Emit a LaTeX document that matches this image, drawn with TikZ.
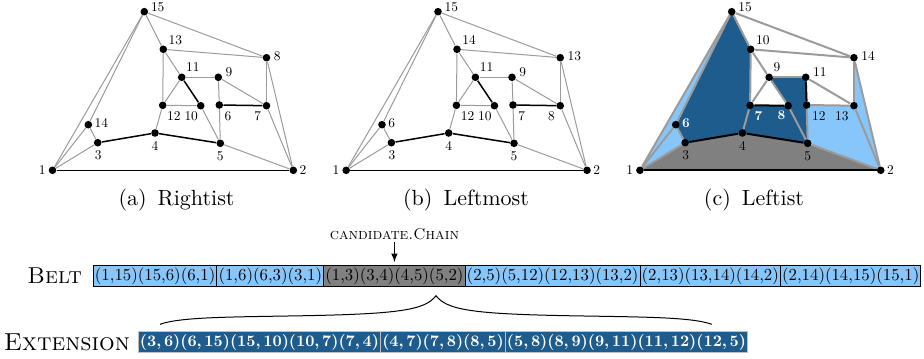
\documentclass[tikz,border=0pt]{standalone}
\usepackage{amsmath,amssymb}
\usepackage{xcolor}
\usepackage{fontspec}
\setmainfont{lmroman10-regular.otf}[BoldFont=lmroman10-bold.otf, ItalicFont=lmroman10-italic.otf, SmallCapsFont=lmromancaps10-regular.otf]
\usepackage{tikz}
\usetikzlibrary{arrows,positioning,backgrounds}

\definecolor{beltblue}{RGB}{135,198,250}
\definecolor{extblue}{RGB}{29,92,140}
\definecolor{edgegray}{RGB}{155,155,155}
\definecolor{facegray}{RGB}{128,128,128}

\newcommand{\wl}[1]{\textcolor{white}{\textbf{#1}}}
\newcommand{\vtxpos}{1/52.5/170.3, 2/293.3/170.3, 3/97.7/142.7, 4/155/133, 5/220.3/143.3, 6/219.3/105, 7/266.5/105.7, 8/266.5/57.7, 9/218.3/77.3, 10/200.7/105.7, 11/181.7/77.3, 12/162.7/105.3, 13/163.3/49.3, 14/88.3/124.7, 15/144.3/11.7}
\newcommand{\commonedges}{1/15, 14/15, 1/14, 1/3, 3/14, 4/12, 12/13, 13/15, 13/11, 13/8, 15/8, 11/12, 11/9, 9/7, 10/5, 6/5, 8/7, 8/2, 7/2, 5/2}

\begin{document}
\begin{tikzpicture}[x=0.5pt,y=-0.5pt,
  vtx/.style={circle,fill=black,inner sep=0pt,minimum size=3.8pt},
  lab/.style={font=\fontsize{6.7}{8}\selectfont,inner sep=0.5pt},
  gedge/.style={edgegray,line width=0.5pt},
  bedge/.style={black,line width=0.75pt},
  cgedge/.style={edgegray,line width=1pt},
  cbedge/.style={black,line width=1pt},
  capt/.style={font=\fontsize{11}{13}\selectfont},
  rowlab/.style={inner sep=1pt},
  beltbox/.style={draw=black,fill=beltblue,line width=0.5pt,inner sep=0.8pt,outer sep=0pt,
    minimum height=10.8pt,font=\fontsize{8.4}{10}\selectfont},
  chainbox/.style={beltbox,fill=facegray},
  extbox/.style={draw=black!25,fill=extblue,text=white,line width=0.6pt,inner sep=0.8pt,outer sep=0pt,
    minimum height=10.5pt,font=\fontsize{8}{10}\selectfont\bfseries}]
\useasboundingbox (0,0) rectangle (924,358);

% (a) rightist
\foreach \n/\x/\y in \vtxpos \node[vtx] (a\n) at (\x,\y) {};
\foreach \u/\v in \commonedges \draw[gedge] (a\u) -- (a\v);
\foreach \u/\v in {12/10, 9/6} \draw[gedge] (a\u) -- (a\v);
\foreach \u/\v in {1/2, 3/4, 4/5, 11/10, 6/7} \draw[bedge] (a\u) -- (a\v);
\foreach \n/\t/\an/\dx/\dy in {1/1/east/-5.5/0, 2/2/west/5/0, 3/3/north/0.6/6, 4/4/north/0/7, 5/5/north/0/6.4,
  6/6/north west/4/4.7, 7/7/north east/-4/4, 8/8/west/6/-1.7, 9/9/west/6/-5.6, 10/10/north east/-1.4/4,
  11/11/south west/3/-4.3, 12/12/north west/3/4.4, 13/13/south west/4/-3.3, 14/14/west/5/-2, 15/15/west/5.3/-5}
  \path (a\n) ++(\dx,\dy) node[lab,anchor=\an] (al\n) {\t};
\node[capt] (capa) at (176.5,200) {(a)\enspace Rightist};

% (b) leftmost
\begin{scope}[shift={(293.7,0)}]
\foreach \n/\x/\y in \vtxpos \node[vtx] (b\n) at (\x,\y) {};
\foreach \u/\v in \commonedges \draw[gedge] (b\u) -- (b\v);
\foreach \u/\v in {12/10, 9/6} \draw[gedge] (b\u) -- (b\v);
\foreach \u/\v in {1/2, 3/4, 4/5, 11/10, 6/7} \draw[bedge] (b\u) -- (b\v);
\foreach \n/\t/\an/\dx/\dy in {1/1/east/-5.5/0, 2/2/west/5/0, 3/3/north/0.6/6, 4/4/north/0/7, 5/5/north/0/6.4,
  6/7/north west/4/4.7, 7/8/north east/-4/4, 8/13/west/6/-1.7, 9/9/west/6/-5.6, 10/10/north east/-1.4/4,
  11/11/south west/3/-4.3, 12/12/north west/3/4.4, 13/14/south west/4/-3.3, 14/6/west/5/-2, 15/15/west/5.3/-5}
  \path (b\n) ++(\dx,\dy) node[lab,anchor=\an] (bl\n) {\t};
\node[capt] (capb) at (172.3,200) {(b)\enspace Leftmost};
\end{scope}

% (c) leftist
\begin{scope}[shift={(587.4,0)}]
\foreach \n/\x/\y in \vtxpos \node[vtx] (c\n) at (\x,\y) {};
\begin{scope}[on background layer]
\fill[facegray] (c1.center) -- (c3.center) -- (c4.center) -- (c5.center) -- (c2.center) -- cycle;
\fill[beltblue] (c1.center) -- (c15.center) -- (c14.center) -- cycle;
\fill[beltblue] (c1.center) -- (c14.center) -- (c3.center) -- cycle;
\fill[beltblue] (c2.center) -- (c5.center) -- (c6.center) -- (c7.center) -- cycle;
\fill[beltblue] (c2.center) -- (c7.center) -- (c8.center) -- cycle;
\fill[extblue] (c3.center) -- (c14.center) -- (c15.center) -- (c13.center) -- (c12.center) -- (c4.center) -- cycle;
\fill[extblue] (c4.center) -- (c12.center) -- (c10.center) -- (c5.center) -- cycle;
\fill[extblue] (c5.center) -- (c10.center) -- (c11.center) -- (c9.center) -- (c6.center) -- cycle;
\end{scope}
\foreach \u/\v in \commonedges \draw[cgedge] (c\u) -- (c\v);
\foreach \u/\v in {11/10, 6/7} \draw[cgedge] (c\u) -- (c\v);
\foreach \u/\v in {1/2, 3/4, 4/5, 12/10, 9/6} \draw[cbedge] (c\u) -- (c\v);
\foreach \n/\t/\an/\dx/\dy in {1/1/east/-5.5/0, 2/2/west/5/0, 3/3/north/0.6/6, 4/4/north/0/7, 5/5/north/0/6.4,
  6/12/north west/4/4.7, 7/13/north east/-4/4, 8/14/west/6/-1.7, 9/11/west/6/-5.6, 10/{\wl{8}}/north east/-1.4/4,
  11/9/south west/3/-4.3, 12/{\wl{7}}/north west/3/4.4, 13/10/south west/4/-3.3, 14/{\wl{6}}/west/5/-2, 15/15/west/5.3/-5}
  \path (c\n) ++(\dx,\dy) node[lab,anchor=\an] (cl\n) {\t};
\node[capt] (capc) at (166.6,200) {(c)\enspace Leftist};
\end{scope}

% belt and extension
\node[beltbox,anchor=west] (belt1) at (93.3,275.9) {(1,15)(15,6)(6,1)};
\node[beltbox,right=0pt of belt1] (belt2) {(1,6)(6,3)(3,1)};
\node[chainbox,right=0pt of belt2] (belt3) {(1,3)(3,4)(4,5)(5,2)};
\node[beltbox,right=0pt of belt3] (belt4) {(2,5)(5,12)(12,13)(13,2)};
\node[beltbox,right=0pt of belt4] (belt5) {(2,13)(13,14)(14,2)};
\node[beltbox,right=0pt of belt5] (belt6) {(2,14)(14,15)(15,1)};
\node[rowlab,font=\fontsize{11.5}{13}\selectfont,left=4.5pt of belt1] (beltlab) {\textsc{Belt}};

\node[font=\fontsize{7.8}{10}\selectfont,inner sep=1pt,above=11.5pt of belt3] (cand) {\textsc{candidate.Chain}};
\draw[-latex,line width=0.5pt,shorten >=1.5pt] (cand) -- (belt3);

\node[extbox,anchor=west] (ext1) at (138.3,342.2) {(3,\,6)(6,\,15)(15,\,10)(10,\,7)(7,\,4)};
\node[extbox,right=0pt of ext1] (ext2) {(4,\,7)(7,\,8)(8,\,5)};
\node[extbox,right=0pt of ext2] (ext3) {(5,\,8)(8,\,9)(9,\,11)(11,\,12)(12,\,5)};
\node[rowlab,font=\fontsize{12.3}{14}\selectfont,left=3pt of ext1] (extlab) {\textsc{Extension}};

\coordinate (brL) at (160,324.3);
\coordinate (brT) at (436,295.7);
\coordinate (brR) at (711.7,324.3);
\draw[line width=0.5pt] (brL) .. controls (180,317) and (230,317) .. (300,315.8)
  .. controls (400,314) and (425,310) .. (brT)
  .. controls (447,310) and (472,314) .. (572,315.8)
  .. controls (642,317) and (692,317) .. (brR);
\end{tikzpicture}
\end{document}
